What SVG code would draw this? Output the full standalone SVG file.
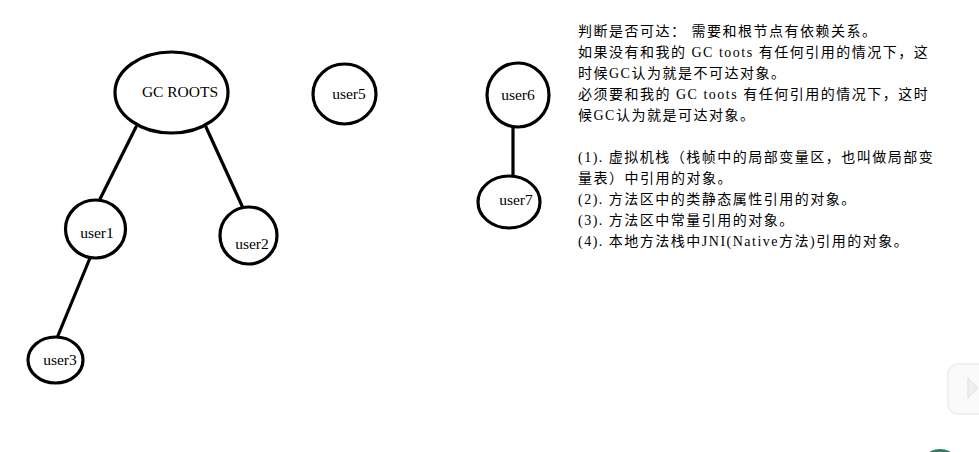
<svg xmlns="http://www.w3.org/2000/svg" width="979" height="452" viewBox="0 0 979 452">
<style>
.n{fill:#fff;stroke:#000;stroke-width:3.2}
.c{stroke:#000;stroke-width:3.2;fill:none;stroke-linecap:round}
.l{font-family:"Liberation Serif","Noto Sans CJK SC",serif;font-size:15.5px;fill:#000}
.t{font-family:"Liberation Serif","Noto Sans CJK SC",serif;font-size:14px;fill:#000;letter-spacing:1.5px}
</style>
<rect width="979" height="452" fill="#fff"/>
<g id="connectors">
<line class="c" x1="136" y1="127" x2="99" y2="201"/>
<line class="c" x1="206" y1="127" x2="243" y2="208"/>
<line class="c" x1="90" y1="258" x2="57" y2="338"/>
<line class="c" x1="513" y1="127" x2="513" y2="177"/>
</g>
<g id="gcroots"><ellipse class="n" cx="171.5" cy="92.5" rx="56.5" ry="40.5"/><text class="l" x="180" y="97" text-anchor="middle">GC ROOTS</text></g>
<g id="user1"><ellipse class="n" cx="95.5" cy="229" rx="30" ry="29"/><text class="l" x="97" y="238" text-anchor="middle">user1</text></g>
<g id="user2"><ellipse class="n" cx="248.5" cy="235.5" rx="28.5" ry="28.5"/><text class="l" x="252" y="249" text-anchor="middle">user2</text></g>
<g id="user3"><ellipse class="n" cx="55.5" cy="360" rx="27.5" ry="23"/><text class="l" x="60" y="365" text-anchor="middle">user3</text></g>
<g id="user5"><ellipse class="n" cx="344.5" cy="94" rx="31.5" ry="30"/><text class="l" x="349" y="99" text-anchor="middle">user5</text></g>
<g id="user6"><ellipse class="n" cx="518" cy="95" rx="31" ry="32"/><text class="l" x="518" y="100" text-anchor="middle">user6</text></g>
<g id="user7"><ellipse class="n" cx="509" cy="202" rx="31" ry="26"/><text class="l" x="516" y="205" text-anchor="middle">user7</text></g>
<g id="notes">
<text class="t" x="578" y="36">判断是否可达： 需要和根节点有依赖关系。</text>
<text class="t" x="578" y="57">如果没有和我的 GC toots 有任何引用的情况下，这</text>
<text class="t" x="578" y="78">时候GC认为就是不可达对象。</text>
<text class="t" x="578" y="99">必须要和我的 GC toots 有任何引用的情况下，这时</text>
<text class="t" x="578" y="120">候GC认为就是可达对象。</text>
<text class="t" x="578" y="162">(1). 虚拟机栈（栈帧中的局部变量区，也叫做局部变</text>
<text class="t" x="578" y="183">量表）中引用的对象。</text>
<text class="t" x="578" y="204">(2). 方法区中的类静态属性引用的对象。</text>
<text class="t" x="578" y="225">(3). 方法区中常量引用的对象。</text>
<text class="t" x="578" y="246">(4). 本地方法栈中JNI(Native方法)引用的对象。</text>
</g>
<g id="overlay">
<rect x="948" y="364" width="40" height="50" rx="10" fill="#fafafa" stroke="#ececec" stroke-width="1.5"/>
<path d="M968 378 L978 388 L968 398 Z" fill="#f0f0f0" stroke="#e0e0e0"/>
<ellipse cx="940" cy="455" rx="12" ry="6" fill="#2e7d5e"/>
</g>
</svg>
